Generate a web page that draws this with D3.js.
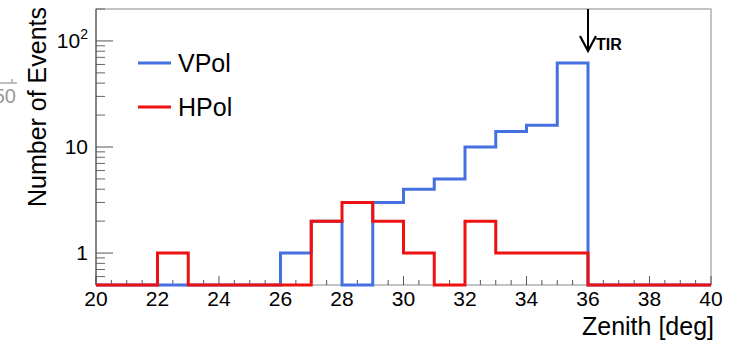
<!DOCTYPE html>
<html lang="en">
  <head>
    <meta charset="utf-8">
    <title>Zenith distribution VPol / HPol</title>
    <script type="text/javascript" src="https://cdnjs.cloudflare.com/ajax/libs/d3/7.8.5/d3.min.js"></script>
    <style>
      body { margin: 0; background: #fff; }
      text { font-family: "Liberation Sans", Arial, sans-serif; }
    </style>
  </head>
  <body>
    <div id="chartDiv"></div>
    <script>
      // bins are 1 deg wide, starting at these edges
      var binStarts = [20,21,22,23,24,25,26,27,28,29,30,31,32,33,34,35,36,37,38,39];
      var vpolCounts = [0,0,0,0,0,0,1,2,0,3,4,5,10,14,16,62,0,0,0,0];
      var hpolCounts = [0,0,1,0,0,0,0,2,3,2,1,0,2,1,1,1,0,0,0,0];
      var xTicks = [20,22,24,26,28,30,32,34,36,38,40];
      var yMajor = [1, 10, 100];
      var yMinor = [0.6,0.7,0.8,0.9,2,3,4,5,6,7,8,9,20,30,40,50,60,70,80,90,200];
      var tirAngle = 36;

      var chartWd = 748
      var chartHt = 344
      // note: "top" is taken by window.top, so use frame* names
      var frameL = 96, frameR = 711, frameT = 9, frameB = 285;
      var yMin = 0.5, yMax = 200;

      var xScale = d3.scaleLinear()
                     .domain([20, 40])
                     .range([frameL, frameR]);

      var yScale = d3.scaleLog()
                     .domain([yMin, yMax])
                     .range([frameB, frameT]);

      var svg = d3.select("#chartDiv")
          .append("svg")
          .attr("width", chartWd)
          .attr("height", chartHt);

      // stray bit of a neighbouring plot at the far left
      svg.append("line")
         .attr("x1", 0).attr("x2", 17).attr("y1", 83).attr("y2", 83)
         .attr("stroke", "#aaa").attr("stroke-width", 1.5);
      svg.append("line")
         .attr("x1", 12).attr("x2", 12).attr("y1", 79).attr("y2", 83)
         .attr("stroke", "#aaa").attr("stroke-width", 1.5);
      svg.append("text")
         .attr("x", 16).attr("y", 103)
         .attr("text-anchor", "end")
         .attr("font-size", "20px")
         .attr("fill", "#999")
         .text("50");

      svg.append("clipPath")
         .attr("id", "frameClip")
         .append("rect")
         .attr("x", frameL - 2).attr("y", frameT)
         .attr("width", frameR - frameL + 4).attr("height", frameB - frameT + 2);

      // frame
      svg.append("rect")
         .attr("x", frameL).attr("y", frameT)
         .attr("width", frameR - frameL).attr("height", frameB - frameT)
         .attr("fill", "none")
         .attr("stroke", "#888")
         .attr("stroke-width", 1);

      // x axis ticks
      var xMinorTicks = d3.range(20, 40.01, 0.5);
      svg.selectAll("line.xminor")
         .data(xMinorTicks)
         .enter()
         .append("line")
         .attr("class", "xminor")
         .attr("x1", function(d) { return xScale(d); })
         .attr("x2", function(d) { return xScale(d); })
         .attr("y1", frameB)
         .attr("y2", function(d) { return (d % 2 == 0) ? frameB - 9 : frameB - 5; })
         .attr("stroke", "#555")
         .attr("stroke-width", 1);

      svg.selectAll("text.xlab")
         .data(xTicks)
         .enter()
         .append("text")
         .attr("class", "xlab")
         .attr("x", function(d) { return xScale(d); })
         .attr("y", frameB + 21)
         .attr("text-anchor", "middle")
         .attr("font-size", "21px")
         .attr("fill", "#000")
         .text(function(d) { return d; });

      // y axis ticks
      svg.selectAll("line.ymajor")
         .data(yMajor)
         .enter()
         .append("line")
         .attr("class", "ymajor")
         .attr("x1", frameL).attr("x2", frameL + 17)
         .attr("y1", function(d) { return yScale(d); })
         .attr("y2", function(d) { return yScale(d); })
         .attr("stroke", "#555");

      svg.selectAll("line.yminor")
         .data(yMinor)
         .enter()
         .append("line")
         .attr("class", "yminor")
         .attr("x1", frameL).attr("x2", frameL + 9)
         .attr("y1", function(d) { return yScale(d); })
         .attr("y2", function(d) { return yScale(d); })
         .attr("stroke", "#666");

      var yLabels = svg.selectAll("text.ylab")
         .data(yMajor)
         .enter()
         .append("text")
         .attr("class", "ylab")
         .attr("x", frameL - 8)
         .attr("y", function(d) { return yScale(d) + 7; })
         .attr("text-anchor", "end")
         .attr("font-size", "21px")
         .attr("fill", "#000");
      yLabels.each(function(d) {
        var t = d3.select(this);
        if (d >= 100) {
          t.append("tspan").text("10");
          t.append("tspan").attr("dy", -9).attr("font-size", "14px").text(Math.round(Math.log10(d)));
        } else {
          t.text(d);
        }
      });

      svg.append("line")
         .attr("x1", frameL).attr("x2", frameL)
         .attr("y1", frameT).attr("y2", frameB)
         .attr("stroke", "#444");

      // axis titles
      svg.append("text")
         .attr("transform", "translate(46," + 107 + ") rotate(-90)")
         .attr("text-anchor", "middle")
         .attr("font-size", "25px")
         .text("Number of Events");

      svg.append("text")
         .attr("x", frameR + 3)
         .attr("y", frameB + 50)
         .attr("text-anchor", "end")
         .attr("font-size", "25px")
         .text("Zenith [deg]");

      // histogram outlines, empty bins sit on the bottom of the frame
      var histPath = function(counts) {
        var yv = function(c) { return yScale(c > 0 ? c : yMin); };
        var p = d3.path();
        p.moveTo(xScale(binStarts[0]), yv(0));
        counts.forEach(function(c, i) {
          p.lineTo(xScale(binStarts[i]), yv(c));
          p.lineTo(xScale(binStarts[i] + 1), yv(c));
        });
        p.lineTo(xScale(binStarts[binStarts.length - 1] + 1), yv(0));
        return p.toString();
      };

      var histG = svg.append("g").attr("clip-path", "url(#frameClip)");

      histG.append("path")
         .attr("d", histPath(vpolCounts))
         .attr("fill", "none")
         .attr("stroke", "#4470e0")
         .attr("stroke-width", 3);

      histG.append("path")
         .attr("d", histPath(hpolCounts))
         .attr("fill", "none")
         .attr("stroke", "#ee1111")
         .attr("stroke-width", 3);

      // TIR arrow
      var ax = xScale(tirAngle);
      svg.append("line")
         .attr("x1", ax).attr("x2", ax)
         .attr("y1", frameT).attr("y2", 51)
         .attr("stroke", "#000").attr("stroke-width", 2);
      svg.append("path")
         .attr("d", "M" + (ax - 8) + ",36 L" + ax + ",51 L" + (ax + 8) + ",36")
         .attr("fill", "none")
         .attr("stroke", "#000").attr("stroke-width", 2.2);
      svg.append("text")
         .attr("x", ax + 8)
         .attr("y", 50)
         .attr("font-size", "16px")
         .attr("font-weight", "bold")
         .text("TIR");

      // legend
      var legend = [
        {name: "VPol", color: "#4470e0", y: 63},
        {name: "HPol", color: "#ee1111", y: 107}
      ];
      svg.selectAll("line.leg")
         .data(legend)
         .enter()
         .append("line")
         .attr("class", "leg")
         .attr("x1", 138).attr("x2", 171)
         .attr("y1", function(d) { return d.y; })
         .attr("y2", function(d) { return d.y; })
         .attr("stroke", function(d) { return d.color; })
         .attr("stroke-width", 3);
      svg.selectAll("text.leg")
         .data(legend)
         .enter()
         .append("text")
         .attr("class", "leg")
         .attr("x", 178)
         .attr("y", function(d) { return d.y + 9; })
         .attr("font-size", "25px")
         .text(function(d) { return d.name; });
    </script>
  </body>
</html>
